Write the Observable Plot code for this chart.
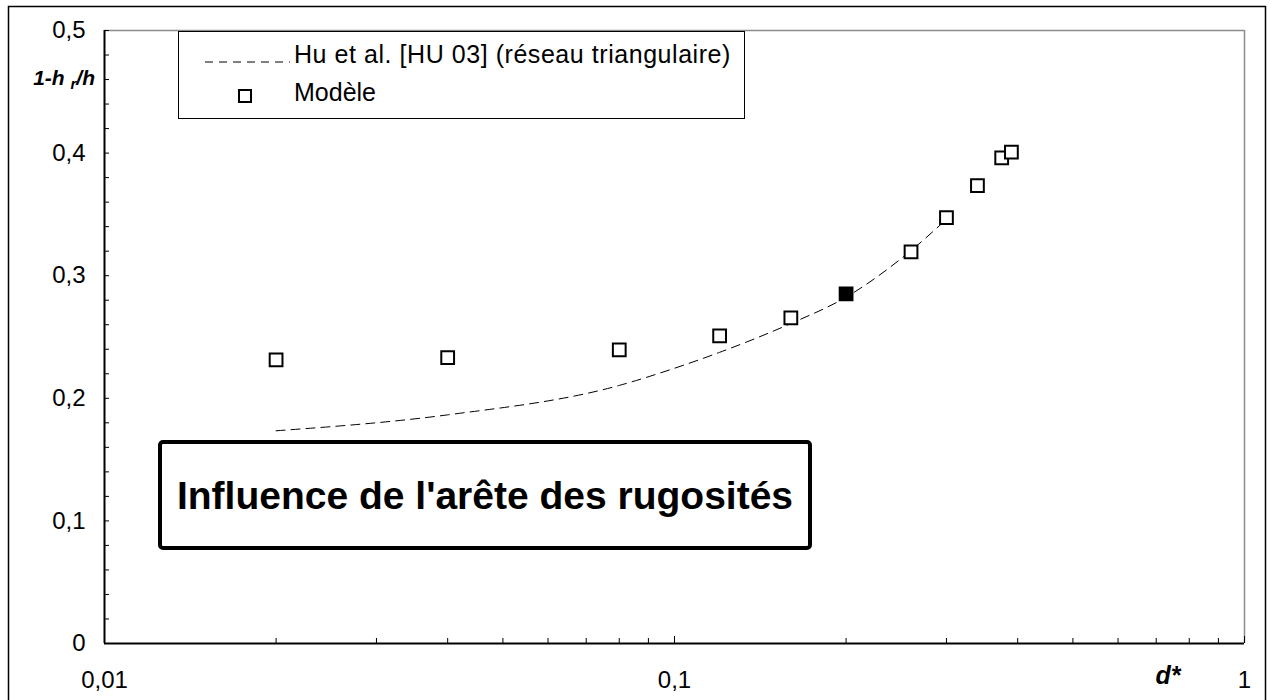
<!DOCTYPE html>
<html><head><meta charset="utf-8">
<script src="https://cdn.jsdelivr.net/npm/d3@7"></script>
<script src="https://cdn.jsdelivr.net/npm/@observablehq/plot@0.6"></script>
<style>
body{margin:0;background:#fff;}
#chart{position:relative;width:1272px;height:700px;overflow:hidden;}
</style>
</head><body><div id="chart"></div>
<script>
// Model (squares); the 0.2 point is drawn filled
const modelD = [0.02, 0.04, 0.08, 0.12, 0.16, 0.2, 0.26, 0.3, 0.34, 0.375, 0.39];
const modelY = [0.2313, 0.2332, 0.2395, 0.2509, 0.2656, 0.2852, 0.3195, 0.3473, 0.3734, 0.3962, 0.4008];
const modelFilled = [false, false, false, false, false, true, false, false, false, false, false];
// Hu et al. [HU 03] dashed curve
const huD = [0.02, 0.04, 0.08, 0.1, 0.12, 0.16, 0.2, 0.26, 0.3];
const huY = [0.1735, 0.1865, 0.2105, 0.2245, 0.2375, 0.261, 0.2825, 0.3205, 0.346];
// ticks
const xMajorTicks = [0.01, 0.1, 1];
const xMinorTicks = [0.02, 0.03, 0.04, 0.05, 0.06, 0.07, 0.08, 0.09, 0.2, 0.3, 0.4, 0.5, 0.6, 0.7, 0.8, 0.9];
const yMajorTicks = [0, 0.1, 0.2, 0.3, 0.4, 0.5];
const yMinorTicks = [0.02, 0.04, 0.06, 0.08, 0.12, 0.14, 0.16, 0.18, 0.22, 0.24, 0.26, 0.28, 0.32, 0.34, 0.36, 0.38, 0.42, 0.44, 0.46, 0.48];
const legendLabels = ["Hu et al. [HU 03] (réseau triangulaire)", "Modèle"];
const annotation = "Influence de l'arête des rugosités";

const model = modelD.map((d, i) => ({d, y: modelY[i], filled: modelFilled[i]}));
const hu = huD.map((d, i) => ({d, y: huY[i]}));
const fmt = v => String(v).replace(".", ",");
const FONT = "'Liberation Sans', Arial, sans-serif";

const plot = Plot.plot({
  width: 1272, height: 700,
  marginLeft: 104, marginRight: 28, marginTop: 30, marginBottom: 57,
  x: {type: "log", domain: [0.01, 1]},
  y: {domain: [0, 0.5]},
  style: {fontFamily: FONT, fontSize: "24px", color: "black", background: "white", overflow: "visible"},
  marks: [
    Plot.ruleY([0.5], {stroke: "#8c8c8c", strokeWidth: 1.5}),
    Plot.ruleX([1], {stroke: "#8c8c8c", strokeWidth: 1.5}),
    Plot.axisY(yMinorTicks.concat(yMajorTicks), {tickSize: 5, dx: 5, fill: "none", label: null, stroke: "black"}),
    Plot.axisY(yMajorTicks, {tickSize: 0, tickPadding: 19, tickFormat: fmt, label: null, fontSize: 24}),
    Plot.axisX(xMinorTicks, {tickSize: 5, dy: -5, fill: "none", label: null, stroke: "black"}),
    Plot.axisX(xMajorTicks, {tickSize: 7, dy: -7, fill: "none", label: null, stroke: "black"}),
    Plot.axisX(xMajorTicks, {tickSize: 0, tickPadding: 27, tickFormat: fmt, label: null, fontSize: 24}),
    Plot.ruleX([0.01], {stroke: "black", strokeWidth: 2}),
    Plot.ruleY([0], {stroke: "black", strokeWidth: 2}),
    Plot.line(hu, {x: "d", y: "y", stroke: "black", strokeWidth: 1, strokeDasharray: "9,6", curve: "monotone-x"}),
    Plot.dot(model.filter(m => !m.filled), {x: "d", y: "y", symbol: "square", r: 7.2, stroke: "black", strokeWidth: 2, fill: "white"}),
    Plot.dot(model.filter(m => m.filled), {x: "d", y: "y", symbol: "square", r: 7.2, stroke: "black", strokeWidth: 2, fill: "black"})
  ]
});
document.getElementById("chart").appendChild(plot);

const svg = d3.select(plot);
// outer border
svg.append("rect").attr("x", 8.5).attr("y", 6.5).attr("width", 1257).attr("height", 710)
  .attr("fill", "none").attr("stroke", "black").attr("stroke-width", 1.5);

// legend
const lg = svg.append("g").attr("font-family", FONT).attr("font-size", 25).attr("text-anchor", "start");
lg.append("rect").attr("x", 178.5).attr("y", 31.5).attr("width", 566).attr("height", 87)
  .attr("fill", "white").attr("stroke", "black").attr("stroke-width", 1);
lg.append("line").attr("x1", 205).attr("x2", 290).attr("y1", 62).attr("y2", 62)
  .attr("stroke", "black").attr("stroke-dasharray", "8,6");
lg.append("text").attr("x", 294).attr("y", 63).attr("letter-spacing", 0.55).text(legendLabels[0]);
lg.append("rect").attr("x", 239).attr("y", 90).attr("width", 12).attr("height", 12)
  .attr("fill", "white").attr("stroke", "black").attr("stroke-width", 2);
lg.append("text").attr("x", 294).attr("y", 101).text(legendLabels[1]);

// annotation box
svg.append("rect").attr("x", 160).attr("y", 442).attr("width", 650).attr("height", 106).attr("rx", 3)
  .attr("fill", "white").attr("stroke", "black").attr("stroke-width", 4);
svg.append("text").attr("x", 485).attr("y", 509).attr("text-anchor", "middle")
  .attr("font-family", FONT).attr("font-weight", "bold").attr("font-size", 39).text(annotation);

// axis titles
const yl = svg.append("text").attr("x", 95).attr("y", 85).attr("text-anchor", "end")
  .attr("font-family", FONT).attr("font-weight", "bold").attr("font-style", "italic").attr("font-size", 21);
yl.append("tspan").text("1-h ");
yl.append("tspan").attr("font-size", 15).attr("dy", 4).text("r");
yl.append("tspan").attr("dy", -4).text("/h");
svg.append("text").attr("x", 1168).attr("y", 684).attr("text-anchor", "middle")
  .attr("font-family", FONT).attr("font-weight", "bold").attr("font-style", "italic").attr("font-size", 25).text("d*");
</script>
</body></html>
